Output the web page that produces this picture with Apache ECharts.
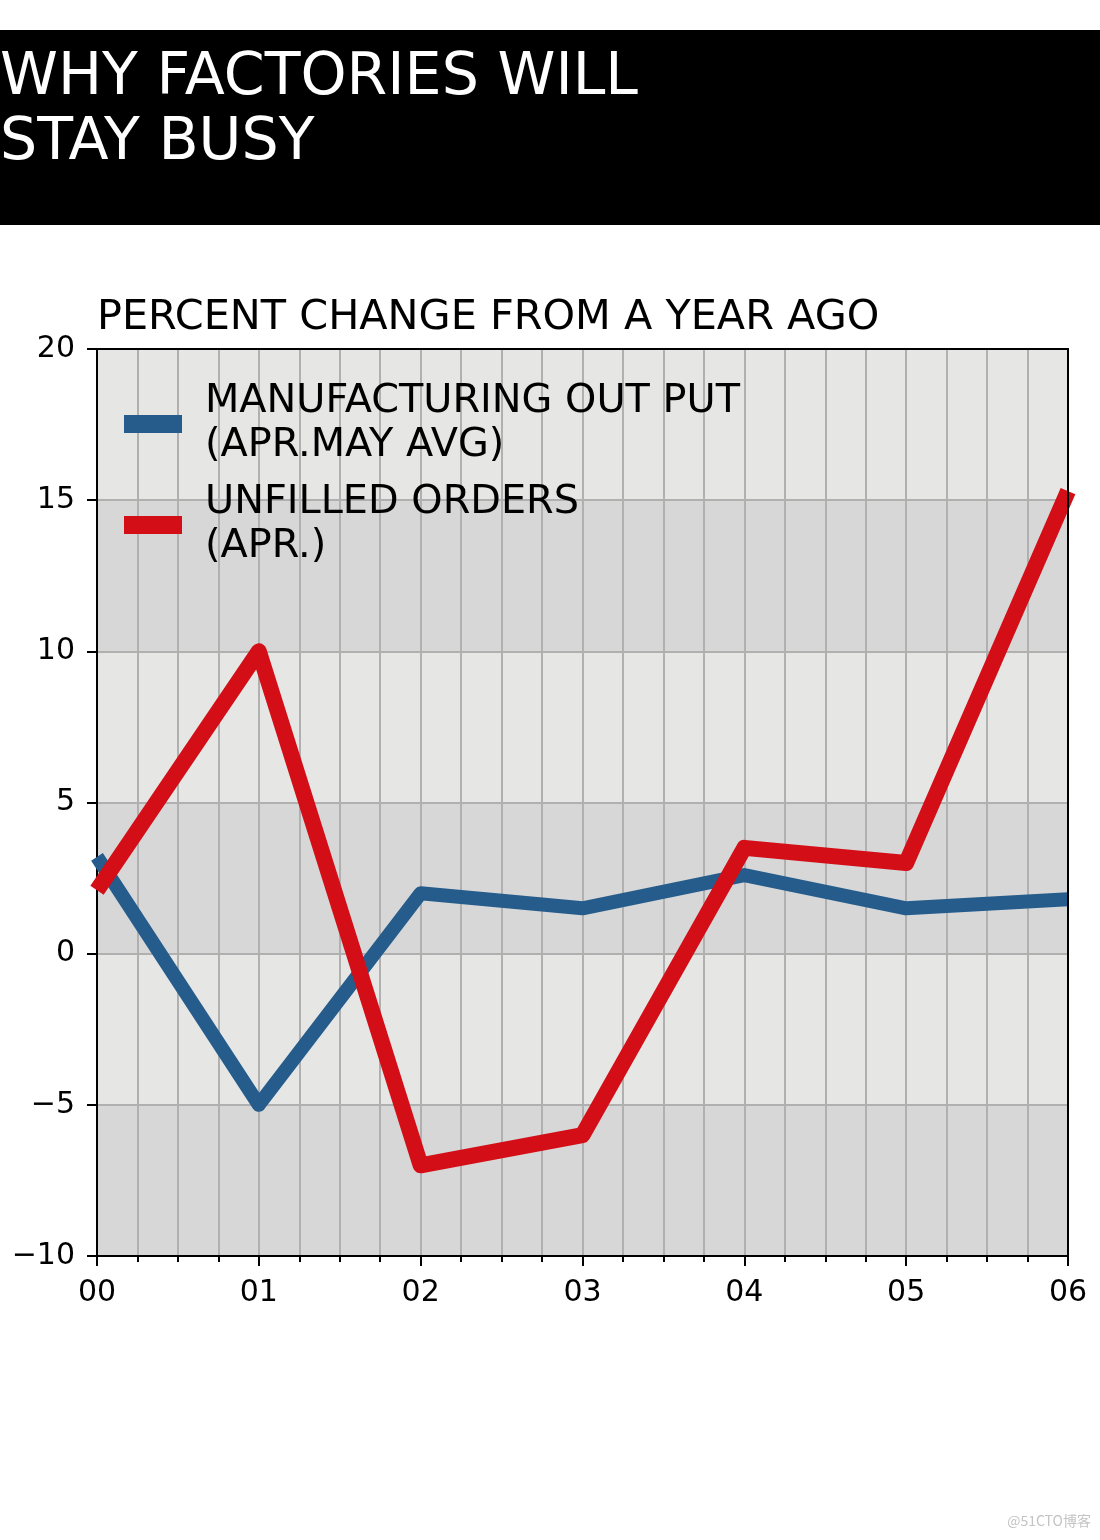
<!DOCTYPE html>
<html>
<head>
<meta charset="utf-8">
<script src="https://cdn.jsdelivr.net/npm/echarts@6/dist/echarts.min.js"></script>
<style>
  html, body { margin: 0; padding: 0; background: #fff; }
  #chart { width: 1100px; height: 1540px; }
</style>
</head>
<body>
<div id="chart"></div>
<script>
const yearLabels = ['00', '01', '02', '03', '04', '05', '06'];
const manufacturingOutput = [3.2, -5, 2, 1.5, 2.6, 1.5, 1.8];
const unfilledOrders = [2.1, 10, -7, -6, 3.5, 3, 15.3];
const seriesNames = ['MANUFACTURING OUT PUT\n(APR.MAY AVG)', 'UNFILLED ORDERS\n(APR.)'];
const titleText = 'WHY FACTORIES WILL\nSTAY BUSY';
const subtitleText = 'PERCENT CHANGE FROM A YEAR AGO';

const FONT = 'DejaVu Sans';
const chart = echarts.init(document.getElementById('chart'), null, { renderer: 'canvas' });

const toPairs = arr => arr.map((v, i) => [i, v]);

const frameAxis = {
  show: true,
  axisLine: { show: true, onZero: false, lineStyle: { color: '#000', width: 2 } },
  axisTick: { show: false },
  axisLabel: { show: false },
  splitLine: { show: false },
  z: 10
};

chart.setOption({
  animation: false,
  backgroundColor: '#ffffff',
  textStyle: { fontFamily: FONT },
  grid: {
    left: 97, right: 32, top: 349, bottom: 284,
    show: false
  },
  legend: {
    orient: 'vertical',
    left: 124, top: 380, padding: 0,
    itemGap: 13, itemWidth: 58, itemHeight: 18,
    icon: 'rect',
    selectedMode: false,
    textStyle: { fontFamily: FONT, fontSize: 39.8, lineHeight: 44, color: '#000', padding: [0, 0, 0, 18] },
    data: seriesNames
  },
  xAxis: [
    {
      type: 'value', min: 0, max: 6, interval: 1, position: 'bottom',
      axisLine: { show: true, onZero: false, lineStyle: { color: '#000', width: 2 } },
      axisTick: { show: true, length: 10, lineStyle: { color: '#000', width: 2 } },
      minorTick: { show: true, splitNumber: 4, length: 6, lineStyle: { color: '#000', width: 2 } },
      splitLine: { show: true, lineStyle: { color: '#b0b0b0', width: 2 } },
      minorSplitLine: { show: true, lineStyle: { color: '#b0b0b0', width: 2 } },
      axisLabel: {
        margin: 22, fontSize: 30, color: '#000', fontFamily: FONT,
        formatter: v => yearLabels[Math.round(v)]
      }
    },
    Object.assign({ type: 'value', min: 0, max: 6, interval: 1, position: 'top' }, frameAxis)
  ],
  yAxis: [
    {
      type: 'value', min: -10, max: 20, interval: 5, position: 'left',
      axisLine: { show: true, onZero: false, lineStyle: { color: '#000', width: 2 } },
      axisTick: { show: true, length: 10, lineStyle: { color: '#000', width: 2 } },
      splitLine: { show: true, lineStyle: { color: '#b0b0b0', width: 2 } },
      splitArea: { show: true, areaStyle: { color: ['#d7d7d7', '#e6e6e5'] } },
      axisLabel: {
        margin: 22, fontSize: 30, color: '#000', fontFamily: FONT, padding: [4, 0, 0, 0],
        formatter: v => (v < 0 ? '\u2212' + (-v) : String(v))
      }
    },
    Object.assign({ type: 'value', min: -10, max: 20, interval: 5, position: 'right' }, frameAxis)
  ],
  series: [
    {
      name: seriesNames[0], type: 'line', data: toPairs(manufacturingOutput),
      symbol: 'none', clip: true, z: 3,
      itemStyle: { color: '#255c8c' },
      lineStyle: { color: '#255c8c', width: 14, join: 'round' }
    },
    {
      name: seriesNames[1], type: 'line', data: toPairs(unfilledOrders),
      symbol: 'none', clip: true, z: 4,
      itemStyle: { color: '#d40e17' },
      lineStyle: { color: '#d40e17', width: 16, join: 'round' }
    }
  ],
  graphic: [
    { type: 'rect', left: 0, top: 30, shape: { width: 1100, height: 195 }, style: { fill: '#000' }, z: 0 },
    {
      type: 'text', x: 0, y: 46, z: 1,
      style: { text: titleText, fill: '#fff', font: '58.6px "DejaVu Sans"', lineHeight: 65, verticalAlign: 'top' }
    },
    {
      type: 'text', x: 97, y: 298, z: 1,
      style: { text: subtitleText, fill: '#000', font: '41.4px "DejaVu Sans"', verticalAlign: 'top' }
    },
    {
      type: 'text', x: 1091, y: 1521, z: 1,
      style: { text: '@51CTO博客', fill: '#c4c4c4', font: '14px "Noto Sans CJK SC"', align: 'right', verticalAlign: 'middle' }
    }
  ]
});
</script>
</body>
</html>
